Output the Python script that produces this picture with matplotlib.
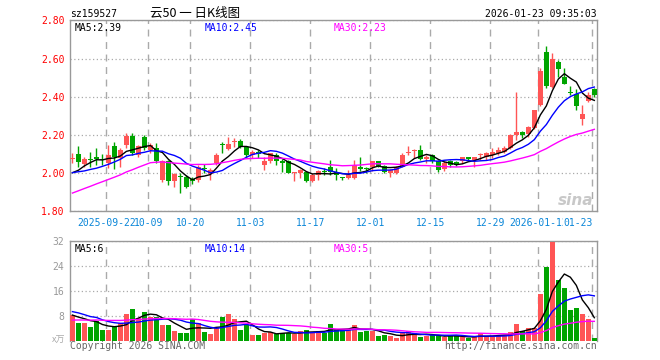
import matplotlib
matplotlib.use("Agg")
import matplotlib.pyplot as plt
import numpy as np

# sz159527 daily candles, 2025-09-12 .. 2026-01-23 (88 trading days)
opens = [2.072, 2.100, 2.047, 2.070, 2.086, 2.072, 2.054, 2.142, 2.077, 2.147,
         2.195, 2.095, 2.191, 2.121, 2.130, 1.963, 2.060, 1.960, 1.982, 1.977,
         1.970, 1.963, 2.028, 1.995, 2.054, 2.151, 2.126, 2.163, 2.168, 2.135,
         2.095, 2.112, 2.040, 2.065, 2.095, 2.065, 2.060, 2.000, 2.002, 2.007,
         1.960, 1.989, 2.011, 2.030, 2.007, 1.975, 1.972, 1.972, 2.033, 2.025,
         2.030, 2.060, 2.037, 2.002, 1.998, 2.033, 2.107, 2.115, 2.121, 2.072,
         2.095, 2.060, 2.019, 2.060, 2.058, 2.060, 2.081, 2.068, 2.093, 2.083,
         2.095, 2.104, 2.112, 2.130, 2.200, 2.217, 2.205, 2.235, 2.358, 2.633,
         2.451, 2.581, 2.504, 2.427, 2.416, 2.284, 2.376, 2.439]
highs = [2.104, 2.142, 2.086, 2.112, 2.130, 2.100, 2.147, 2.161, 2.130, 2.209,
         2.209, 2.147, 2.200, 2.156, 2.156, 2.068, 2.068, 1.998, 1.998, 1.988,
         1.980, 2.042, 2.046, 2.025, 2.104, 2.160, 2.188, 2.182, 2.177, 2.139,
         2.118, 2.121, 2.086, 2.107, 2.104, 2.072, 2.068, 2.007, 2.020, 2.012,
         1.998, 2.016, 2.025, 2.068, 2.025, 1.980, 2.016, 2.068, 2.086, 2.033,
         2.065, 2.065, 2.042, 2.020, 2.037, 2.104, 2.142, 2.126, 2.144, 2.095,
         2.098, 2.068, 2.060, 2.068, 2.065, 2.086, 2.086, 2.086, 2.104, 2.109,
         2.130, 2.135, 2.139, 2.204, 2.423, 2.220, 2.247, 2.332, 2.551, 2.668,
         2.630, 2.595, 2.551, 2.454, 2.440, 2.358, 2.423, 2.446]
lows = [2.051, 2.033, 2.033, 2.030, 2.042, 2.040, 2.028, 2.023, 2.033, 2.130,
        2.095, 2.086, 2.121, 2.107, 2.051, 1.954, 1.937, 1.928, 1.896, 1.919,
        1.940, 1.954, 1.998, 1.963, 2.042, 2.104, 2.121, 2.135, 2.130, 2.086,
        2.077, 2.079, 2.016, 2.054, 2.042, 2.007, 1.998, 1.960, 1.972, 1.951,
        1.951, 1.963, 1.989, 1.989, 1.963, 1.965, 1.967, 1.967, 2.012, 2.000,
        2.010, 2.033, 1.998, 1.977, 1.995, 2.030, 2.095, 2.077, 2.068, 2.051,
        2.054, 2.007, 2.012, 2.033, 2.037, 2.054, 2.060, 2.033, 2.068, 2.068,
        2.077, 2.095, 2.104, 2.125, 2.174, 2.182, 2.191, 2.230, 2.350, 2.445,
        2.448, 2.504, 2.465, 2.411, 2.328, 2.253, 2.372, 2.400]
closes = [2.074, 2.056, 2.074, 2.068, 2.074, 2.068, 2.095, 2.086, 2.121, 2.195,
          2.107, 2.139, 2.130, 2.147, 2.060, 2.060, 1.960, 1.995, 1.977, 1.928,
          1.960, 2.033, 2.019, 2.016, 2.095, 2.146, 2.153, 2.165, 2.135, 2.095,
          2.112, 2.097, 2.065, 2.104, 2.060, 2.051, 2.002, 2.005, 2.016, 1.960,
          1.989, 2.011, 2.005, 2.007, 1.989, 1.972, 1.989, 2.042, 2.019, 2.023,
          2.060, 2.037, 2.004, 2.016, 2.033, 2.095, 2.112, 2.120, 2.072, 2.086,
          2.060, 2.016, 2.054, 2.042, 2.044, 2.081, 2.072, 2.083, 2.095, 2.104,
          2.112, 2.121, 2.130, 2.200, 2.217, 2.200, 2.239, 2.328, 2.537, 2.454,
          2.598, 2.546, 2.468, 2.419, 2.353, 2.311, 2.411, 2.409]
# volume, 10k lots
volumes = [8.2, 5.8, 5.8, 4.5, 6.4, 3.4, 3.4, 4.7, 5.6, 8.5,
           10.1, 7.2, 9.2, 7.5, 7.5, 5.0, 5.0, 3.2, 2.5, 2.5,
           6.8, 5.6, 2.9, 2.1, 4.0, 7.5, 8.5, 6.8, 3.4, 5.0,
           1.8, 1.8, 2.6, 2.7, 2.1, 2.6, 2.6, 2.1, 3.0, 3.4,
           2.9, 3.0, 2.6, 5.4, 3.4, 3.7, 3.7, 5.0, 2.9, 3.2,
           3.2, 1.5, 1.8, 1.5, 0.9, 2.4, 3.0, 2.4, 1.1, 1.5,
           1.8, 1.8, 1.1, 1.5, 1.5, 1.1, 1.0, 1.1, 2.4, 1.5,
           1.5, 1.8, 1.8, 2.9, 5.3, 3.2, 4.2, 4.2, 14.9, 23.7,
           31.7, 19.4, 17.0, 9.8, 10.6, 8.5, 6.9, 1.0]

# the 29 sessions before the window, only needed for the moving averages
prev_closes = [1.70, 1.71, 1.72, 1.70, 1.72, 1.74, 1.73, 1.75, 1.74, 1.76,
               1.75, 1.77, 1.79, 1.98, 2.02, 2.06, 2.08, 2.04, 2.02, 2.03,
               2.01, 2.03, 1.99, 2.01, 1.97, 1.99, 1.96, 1.98, 2.00]
prev_volumes = [5.0, 6.2, 5.5, 4.8, 6.0, 5.2, 4.6, 5.8, 5.4, 6.1,
                4.9, 5.3, 4.7, 5.0, 5.6, 4.8, 5.2, 5.1, 4.9, 4.9,
                9.8, 11.5, 10.6, 9.2, 10.9, 9.0, 8.4, 7.6, 7.8]

tick_idx = [6, 13, 20, 30, 40, 50, 60, 70, 78, 87]
tick_labels = ["2025-09-22", "10-09", "10-20", "11-03", "11-17",
               "12-01", "12-15", "12-29", "2026-01-12", "01-23"]

RED = "#ff5555"
GREEN = "#00a400"
GRID = "#aaaaaa"
MONO = "DejaVu Sans Mono"
FS = 7


def moving_avg(prev, cur, n):
    allv = np.array(prev + cur, dtype=float)
    ma = np.convolve(allv, np.ones(n) / n, mode="valid")
    return ma[-len(cur):]


def style_panel(ax):
    for s in ["left", "top", "right", "bottom"]:
        ax.spines[s].set_color("#999999")
        ax.spines[s].set_linewidth(1.0)
    ax.tick_params(length=0)
    ax.set_xlim(-0.4, 87.45)
    ax.set_xticks([i - 0.333 for i in tick_idx])
    ax.grid(axis="x", color=GRID, linestyle=(0, (5, 4)), linewidth=1.0)
    ax.grid(axis="y", color=GRID, linestyle=(0, (1, 2)), linewidth=0.9)
    ax.set_axisbelow(True)


fig = plt.figure(figsize=(6.6, 3.6), dpi=100)
ax = fig.add_axes([0.1061, 0.4139, 0.7985, 0.5292])
axv = fig.add_axes([0.1061, 0.0536, 0.7985, 0.2778])

x = np.arange(len(closes))
o = np.array(opens)
c = np.array(closes)
up = c >= o
colors = [RED if u else GREEN for u in up]

# candles
ax.vlines(x, lows, highs, colors=colors, linewidth=1.0, zorder=2)
body_lo = np.minimum(o, c)
body_h = np.maximum(np.abs(c - o), 0.004)
ax.bar(x, body_h, bottom=body_lo, width=0.8, color=colors, linewidth=0, zorder=3)

ax.plot(x, moving_avg(prev_closes, closes, 5), color="black", lw=1.0, zorder=4)
ax.plot(x, moving_avg(prev_closes, closes, 10), color="#0000ff", lw=1.0, zorder=4)
ax.plot(x, moving_avg(prev_closes, closes, 30), color="#ff00ff", lw=1.0, zorder=4)

style_panel(ax)
ax.set_ylim(1.8, 2.8)
ax.set_yticks([1.8, 2.0, 2.2, 2.4, 2.6, 2.8])
ax.set_yticklabels(["%.2f" % v for v in [1.8, 2.0, 2.2, 2.4, 2.6, 2.8]],
                   color="red", family=MONO, fontsize=FS)
ax.tick_params(axis="y", pad=4)
ax.set_xticklabels(tick_labels, color="#0a86d8", family=MONO, fontsize=FS)
ax.tick_params(axis="x", pad=5)
xl = ax.get_xticklabels()
xl[-1].set_ha("right")
xl[-1].set_bbox(dict(facecolor="white", edgecolor="none", pad=0.3))

ax.text(0.008, 0.985, "MA5:2.39", transform=ax.transAxes, color="black",
        family=MONO, fontsize=FS, va="top")
ax.text(0.255, 0.985, "MA10:2.45", transform=ax.transAxes, color="#0000ff",
        family=MONO, fontsize=FS, va="top")
ax.text(0.5, 0.985, "MA30:2.23", transform=ax.transAxes, color="#ff00ff",
        family=MONO, fontsize=FS, va="top")
ax.text(0.993, 0.015, "sina", transform=ax.transAxes, color="#bbbbbb",
        fontsize=11, fontweight="bold", style="italic", ha="right", va="bottom",
        alpha=0.8, zorder=1)

# volume
axv.bar(x, volumes, width=0.8, color=colors, linewidth=0, zorder=3)
axv.plot(x, moving_avg(prev_volumes, volumes, 5), color="black", lw=1.0, zorder=4)
axv.plot(x, moving_avg(prev_volumes, volumes, 10), color="#0000ff", lw=1.0, zorder=4)
axv.plot(x, moving_avg(prev_volumes, volumes, 30), color="#ff00ff", lw=1.0, zorder=4)
style_panel(axv)
axv.spines["bottom"].set_visible(False)
axv.set_ylim(0, 32)
axv.set_yticks([8, 16, 24, 32])
axv.set_yticklabels(["8", "16", "24", "32"], color="#999999", family=MONO, fontsize=FS)
axv.tick_params(axis="y", pad=4)
axv.set_xticklabels([])
axv.text(-0.008, 0.0, "x万", transform=axv.transAxes, color="#aaaaaa",
         family=["Noto Sans CJK SC", "DejaVu Sans"], fontsize=6.5, ha="right", va="center")
axv.text(0.008, 0.97, "MA5:6", transform=axv.transAxes, color="black",
         family=MONO, fontsize=FS, va="top")
axv.text(0.255, 0.97, "MA10:14", transform=axv.transAxes, color="#0000ff",
         family=MONO, fontsize=FS, va="top")
axv.text(0.5, 0.97, "MA30:5", transform=axv.transAxes, color="#ff00ff",
         family=MONO, fontsize=FS, va="top")

# header / footer
fig.text(0.1061, 0.962, "sz159527", color="black", family=MONO, fontsize=FS, va="center")
fig.text(0.227, 0.962, "云50 一 日K线图", color="black",
         family=["Noto Sans CJK SC", "DejaVu Sans"], fontsize=9, va="center")
fig.text(0.9045, 0.962, "2026-01-23 09:35:03", color="black", family=MONO,
         fontsize=FS, va="center", ha="right")
fig.text(0.1061, 0.038, "Copyright 2026 SINA.COM", color="#666666", family=MONO,
         fontsize=FS, va="center")
fig.text(0.9045, 0.038, "http://finance.sina.com.cn", color="#666666", family=MONO,
         fontsize=FS, va="center", ha="right")

fig.savefig("out.png", dpi=100, facecolor="white")
